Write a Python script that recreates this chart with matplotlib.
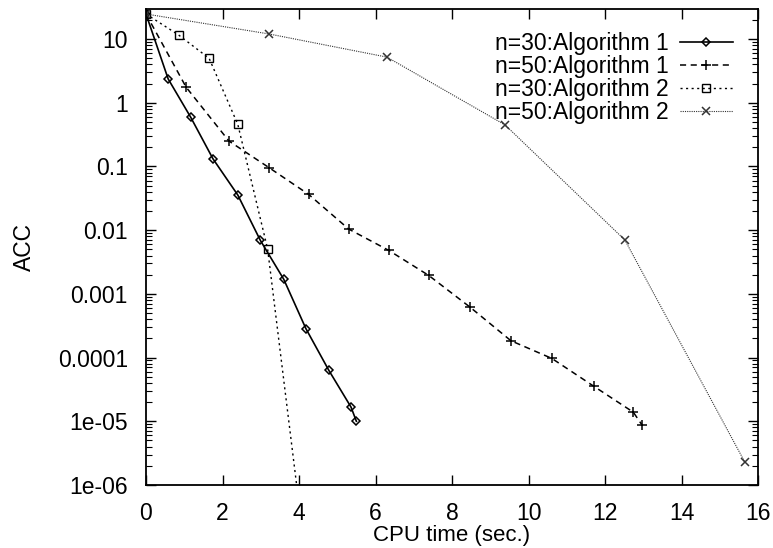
import matplotlib
matplotlib.use("Agg")
import matplotlib.pyplot as plt
from matplotlib.ticker import LogLocator, FixedLocator, NullFormatter

plt.rcParams['font.family'] = ['Liberation Sans', 'DejaVu Sans']

# n=30 : Algorithm 1
t30_a1 = [0.0, 0.58, 1.17, 1.75, 2.40, 2.99, 3.60, 4.18, 4.78, 5.36, 5.50]
acc30_a1 = [24.7, 2.36, 0.59, 0.132, 0.0356, 0.0069, 0.0017, 0.000285, 6.3e-5, 1.67e-5, 1.0e-5]

# n=50 : Algorithm 1
t50_a1 = [0.0, 1.05, 2.17, 3.22, 4.25, 5.30, 6.35, 7.39, 8.47, 9.54, 10.61, 11.70, 12.74, 12.97]
acc50_a1 = [24.7, 1.75, 0.25, 0.0955, 0.0365, 0.0104, 0.0048, 0.00195, 0.00062, 0.000184,
            9.7e-5, 3.57e-5, 1.39e-5, 8.7e-6]

# n=30 : Algorithm 2
t30_a2 = [0.0, 0.85, 1.65, 2.40, 3.18, 3.97]
acc30_a2 = [24.7, 11.6, 4.98, 0.458, 0.00505, 7e-7]

# n=50 : Algorithm 2
t50_a2 = [0.0, 3.22, 6.30, 9.39, 12.52, 15.66]
acc50_a2 = [24.7, 12.0, 5.2, 0.447, 0.0070, 2.26e-6]

labels = ["n=30:Algorithm 1", "n=50:Algorithm 1", "n=30:Algorithm 2", "n=50:Algorithm 2"]
xticks = [0, 2, 4, 6, 8, 10, 12, 14, 16]
yticks = [1e-6, 1e-5, 1e-4, 1e-3, 1e-2, 1e-1, 1, 10]
ytick_labels = ["1e-06", "1e-05", "0.0001", "0.001", "0.01", "0.1", "1", "10"]

fig = plt.figure(figsize=(7.73, 5.48), dpi=100)
ax = fig.add_axes([146/773, 1 - 485/548, 612/773, 476/548])

ax.plot(t30_a1, acc30_a1, color='black', lw=1.2, ls='-', marker='D', ms=4.5,
        mfc='none', mew=1.1, label=labels[0])
ax.plot(t50_a1, acc50_a1, color='black', lw=1.1, ls=(0, (4, 3)), marker='+', ms=7,
        mew=1.1, label=labels[1])
ax.plot(t30_a2, acc30_a2, color='black', lw=1.0, ls=(0, (1.5, 2.5)), marker='s', ms=6,
        mfc='none', mew=1.0, label=labels[2])
ax.plot(t50_a2, acc50_a2, color='#333333', lw=0.8, ls=(0, (1, 1)), marker='x', ms=6,
        mew=1.1, label=labels[3])

ax.set_yscale('log')
ax.set_xlim(0, 16)
ax.set_ylim(1e-6, 29.6)

ax.xaxis.set_major_locator(FixedLocator(xticks))
ax.set_xticklabels([str(v) for v in xticks])
ax.yaxis.set_major_locator(FixedLocator(yticks))
ax.set_yticklabels(ytick_labels)
ax.yaxis.set_minor_locator(LogLocator(base=10, subs=range(2, 10), numticks=20))
ax.yaxis.set_minor_formatter(NullFormatter())

ax.tick_params(which='major', direction='in', length=7, width=1.0, top=True, right=True,
               labelsize=16.5, colors='black')
ax.tick_params(which='minor', direction='in', length=4, width=0.8, top=True, right=True)
ax.tick_params(axis='x', which='major', pad=12)
ax.tick_params(axis='y', which='major', pad=13)

for s in ax.spines.values():
    s.set_linewidth(1.3)

ax.set_xlabel("CPU time (sec.)", fontsize=16)
ax.xaxis.set_label_coords(0.5, (485 - 535) / 476)
ax.xaxis.label.set_va('center')
ax.set_ylabel("ACC", fontsize=16.5)
ax.yaxis.set_label_coords((24 - 146) / 612, 0.5)
ax.yaxis.label.set_va('center')

leg = ax.legend(loc='upper right', frameon=False, fontsize=16.5, markerfirst=False,
                handlelength=2.3, handletextpad=0.5, labelspacing=0.0,
                borderaxespad=0.3, bbox_to_anchor=(0.985, 0.985))

fig.savefig("out.png", dpi=100, facecolor='white')
